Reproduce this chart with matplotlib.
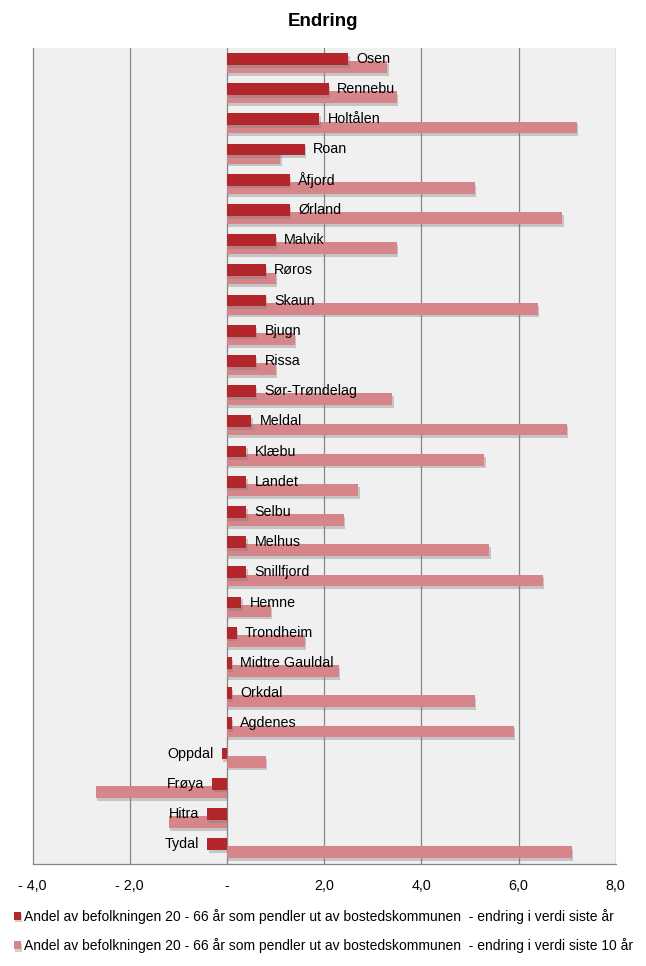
import matplotlib.pyplot as plt
import matplotlib.patheffects as pe
import numpy as np

plt.rcParams['font.family'] = ['Liberation Sans', 'DejaVu Sans']

# kommuner, ovenfra og ned
kommuner = ["Osen", "Rennebu", "Holtålen", "Roan", "Åfjord", "Ørland", "Malvik",
            "Røros", "Skaun", "Bjugn", "Rissa", "Sør-Trøndelag", "Meldal", "Klæbu",
            "Landet", "Selbu", "Melhus", "Snillfjord", "Hemne", "Trondheim",
            "Midtre Gauldal", "Orkdal", "Agdenes", "Oppdal", "Frøya", "Hitra", "Tydal"]
siste_aar = [2.5, 2.1, 1.9, 1.6, 1.3, 1.3, 1.0, 0.8, 0.8, 0.6, 0.6, 0.6, 0.5, 0.4,
             0.4, 0.4, 0.4, 0.4, 0.3, 0.2, 0.1, 0.1, 0.1, -0.1, -0.3, -0.4, -0.4]
siste_10_aar = [3.3, 3.5, 7.2, 1.1, 5.1, 6.9, 3.5, 1.0, 6.4, 1.4, 1.0, 3.4, 7.0, 5.3,
                2.7, 2.4, 5.4, 6.5, 0.9, 1.6, 2.3, 5.1, 5.9, 0.8, -2.7, -1.2, 7.1]
serie_navn = ["Andel av befolkningen 20 - 66 år som pendler ut av bostedskommunen  - endring i verdi siste år",
              "Andel av befolkningen 20 - 66 år som pendler ut av bostedskommunen  - endring i verdi siste 10 år"]
xticks = [-4, -2, 0, 2, 4, 6, 8]
xtick_labels = ["- 4,0", "- 2,0", "-", "2,0", "4,0", "6,0", "8,0"]

mork = "#b3262b"
lys = "#d6868a"

fig = plt.figure(figsize=(6.46, 9.66), dpi=100)
ax = fig.add_axes([32.5/646, 1-863.5/966, (615.7-32.5)/646, (863.5-48)/966])
ax.set_facecolor("#f0f0f0")

y = np.arange(len(kommuner))
shadow = [pe.withSimplePatchShadow(offset=(1, -2), shadow_rgbFace="#777777", alpha=0.35)]
b2 = ax.barh(y + 0.13, siste_10_aar, height=0.39, color=lys, zorder=2, path_effects=shadow)
b1 = ax.barh(y - 0.14, siste_aar, height=0.39, color=mork, zorder=3, path_effects=shadow)

# kommunenavn som dataetiketter ved enden av den mørke søylen
for yi, v, navn in zip(y, siste_aar, kommuner):
    if v >= 0:
        ax.annotate(navn, (v, yi - 0.14), xytext=(6, 0), textcoords="offset points",
                    ha="left", va="center", fontsize=10.3, zorder=5)
    else:
        ax.annotate(navn, (v, yi - 0.14), xytext=(-6, 0), textcoords="offset points",
                    ha="right", va="center", fontsize=10.3, zorder=5)

ax.set_xlim(-4, 8)
ax.set_ylim(len(kommuner) - 0.5, -0.5)
ax.set_xticks(xticks)
ax.set_xticklabels(xtick_labels, fontsize=10.3)
ax.set_yticks([])
ax.tick_params(axis="x", length=0, pad=11)
for x in xticks[1:]:
    ax.axvline(x, color="#868686", lw=0.9, zorder=1)
for s in ["top", "right"]:
    ax.spines[s].set_visible(False)
for s in ["left", "bottom"]:
    ax.spines[s].set_color("#868686")
    ax.spines[s].set_linewidth(0.9)

fig.text(0.5, 1-21/966, "Endring", ha="center", va="center", fontsize=13.5, fontweight="bold")

fig.legend([b1, b2], serie_navn, loc="upper left", bbox_to_anchor=(8/646, 1-903/966),
           frameon=False, fontsize=10.0, handlelength=0.5, handleheight=0.5,
           handletextpad=0.25, labelspacing=1.05, borderaxespad=0)

fig.savefig("out.png", dpi=100)
